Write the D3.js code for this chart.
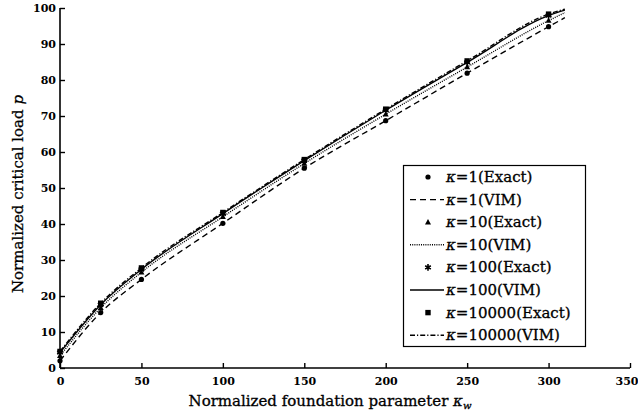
<!DOCTYPE html>
<html><head><meta charset="utf-8">
<script src="https://cdn.jsdelivr.net/npm/d3@7"></script>
<style>body{margin:0;background:#fff}svg{display:block}text{font-family:"DejaVu Serif","Liberation Serif",serif;fill:#000}.heavy{stroke:#000;stroke-width:0.3px}</style>
</head><body><svg id="c" width="638" height="417"></svg>
<script>
const xExact = [0, 25, 50, 100, 150, 200, 250, 300];
const xVIM = [0, 25, 50, 100, 150, 200, 250, 300, 310];
const k1Exact = [2.0, 15.4, 24.6, 40.2, 55.5, 68.7, 81.9, 94.8];
const k1VIM = [2.0, 15.4, 24.6, 40.2, 55.5, 68.7, 81.9, 94.8, 97.3];
const k10Exact = [3.4, 16.7, 26.6, 42.0, 56.8, 70.5, 83.6, 96.5];
const k10VIM = [3.4, 16.7, 26.6, 42.0, 56.8, 70.5, 83.6, 96.5, 98.7];
const k100Exact = [4.3, 17.6, 27.4, 42.9, 57.6, 71.6, 84.9, 97.9];
const k100VIM = [4.3, 17.6, 27.4, 42.9, 57.6, 71.6, 84.9, 97.9, 99.4];
const k10000Exact = [4.6, 18.0, 27.8, 43.2, 57.9, 71.9, 85.3, 98.3];
const k10000VIM = [4.6, 18.0, 27.8, 43.2, 57.9, 71.9, 85.3, 98.3, 99.7];
const xTicks = [0, 50, 100, 150, 200, 250, 300, 350];
const yTicks = [0, 10, 20, 30, 40, 50, 60, 70, 80, 90, 100];
const legendLabels = ["1(Exact)", "1(VIM)", "10(Exact)", "10(VIM)", "100(Exact)", "100(VIM)", "10000(Exact)", "10000(VIM)"];

const svg = d3.select("#c");
const x = d3.scaleLinear().domain([0, 350]).range([60, 630]);
const y = d3.scaleLinear().domain([0, 100]).range([368, 8]);

const line = d3.line().x(d => x(d[0])).y(d => y(d[1])).curve(d3.curveMonotoneX);
const styles = [
  {vim: k1VIM, ex: k1Exact, dash: "6,4", sym: "circle"},
  {vim: k10VIM, ex: k10Exact, dash: "1,1.2", sym: "triangle"},
  {vim: k100VIM, ex: k100Exact, dash: null, sym: "asterisk"},
  {vim: k10000VIM, ex: k10000Exact, dash: "5,2,1.2,2", sym: "square"}
];

function drawSym(g, type, cx, cy) {
  if (type === "circle") g.append("circle").attr("cx", cx).attr("cy", cy).attr("r", 2.6).attr("fill", "#000");
  else if (type === "triangle") g.append("path").attr("d", `M${cx},${cy-3.2}L${cx+3},${cy+2.2}L${cx-3},${cy+2.2}Z`).attr("fill", "#000");
  else if (type === "square") g.append("rect").attr("x", cx-2.7).attr("y", cy-2.7).attr("width", 5.4).attr("height", 5.4).attr("fill", "#000");
  else {
    const p = d3.symbol().type(d3.symbolAsterisk).size(30);
    g.append("path").attr("d", p()).attr("transform", `translate(${cx},${cy})`).attr("fill", "none").attr("stroke", "#000").attr("stroke-width", 1.6);
    g.append("circle").attr("cx", cx).attr("cy", cy).attr("r", 1.6).attr("fill", "#000");
  }
}

const plot = svg.append("g");
styles.forEach(s => {
  plot.append("path").datum(xVIM.map((v, i) => [v, s.vim[i]])).attr("d", line)
    .attr("fill", "none").attr("stroke", "#000").attr("stroke-width", 1.4)
    .attr("stroke-dasharray", s.dash);
});
styles.forEach(s => {
  xExact.forEach((v, i) => drawSym(plot, s.sym, x(v), y(s.ex[i])));
});

// axes
const gx = svg.append("g").attr("transform", "translate(0,368)")
  .call(d3.axisBottom(x).tickValues(xTicks).tickSize(-5).tickPadding(9).tickFormat(d3.format("d")));
const gy = svg.append("g").attr("transform", "translate(60,0)")
  .call(d3.axisLeft(y).tickValues(yTicks).tickSize(-5).tickPadding(4).tickFormat(d3.format("d")));
[gx, gy].forEach(g => {
  g.select(".domain").attr("stroke", "#000").attr("stroke-width", 1.6);
  g.selectAll(".tick line").attr("stroke", "#000").attr("stroke-width", 1.4);
  g.selectAll(".tick text").attr("font-size", 11).attr("font-weight", "bold").attr("font-family", "Liberation Serif");
});
gx.select(".domain").attr("d", "M60,0H630");
gy.select(".domain").attr("d", "M0,368V8");
gx.selectAll(".tick text").filter(d => d === 350).attr("text-anchor", "end").attr("dx", 8);

// axis titles
const xt = svg.append("text").attr("class", "heavy").attr("x", 330).attr("y", 406).attr("text-anchor", "middle").attr("font-size", 15);
xt.append("tspan").text("Normalized foundation parameter ");
xt.append("tspan").attr("font-style", "italic").text("κ");
xt.append("tspan").attr("font-style", "italic").attr("font-size", 10).attr("dy", 3).text("w");

const yt = svg.append("text").attr("class", "heavy").attr("transform", "translate(23,194) rotate(-90)").attr("text-anchor", "middle").attr("font-size", 15);
yt.append("tspan").text("Normalized critical load ");
yt.append("tspan").attr("font-style", "italic").text("p");

// legend
const lg = svg.append("g");
lg.append("rect").attr("x", 403.5).attr("y", 165.5).attr("width", 182).attr("height", 181)
  .attr("fill", "#fff").attr("stroke", "#000").attr("stroke-width", 1.2);
legendLabels.forEach((lab, i) => {
  const cy = 177 + i * 22.6;
  const s = styles[Math.floor(i / 2)];
  if (i % 2 === 0) drawSym(lg, s.sym, 428, cy);
  else lg.append("line").attr("x1", 410).attr("x2", 444).attr("y1", cy).attr("y2", cy)
    .attr("stroke", "#000").attr("stroke-width", 1.4).attr("stroke-dasharray", s.dash);
  const t = lg.append("text").attr("class", "heavy").attr("x", 446).attr("y", cy + 5).attr("font-size", 15);
  t.append("tspan").attr("font-style", "italic").text("κ");
  t.append("tspan").text("=" + lab);
});
</script></body></html>
